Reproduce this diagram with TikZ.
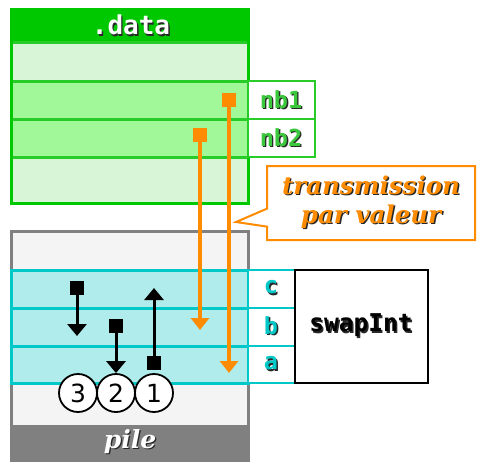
\documentclass[tikz,border=0pt]{standalone}
\usepackage{fontspec}
\setmainfont{DejaVu Serif}
\setsansfont{DejaVu Sans}
\setmonofont{DejaVu Sans Mono}
\usetikzlibrary{arrows.meta,shapes.callouts}
\definecolor{dgreen}{RGB}{0,200,0}
\definecolor{rgreen}{RGB}{40,204,40}
\definecolor{lgreen}{RGB}{216,245,216}
\definecolor{mgreen}{RGB}{160,248,152}
\definecolor{tgreen}{RGB}{60,200,60}
\definecolor{orng}{RGB}{255,140,0}
\definecolor{cyanb}{RGB}{0,200,200}
\definecolor{cyanf}{RGB}{176,236,236}
\definecolor{gryb}{RGB}{128,128,128}
\definecolor{gryf}{RGB}{244,244,244}
\definecolor{shad}{RGB}{40,40,40}
\newcommand\shtxt[2]{\makebox[0pt][l]{\hspace*{1.4pt}\raisebox{-1.4pt}{\color{#1}#2}}#2}
\begin{document}
\begin{tikzpicture}[x=1pt,y=-1pt,
  mono/.style={font=\fontsize{23.5}{24}\selectfont\ttfamily\bfseries},
  osq/.style={fill=orng, minimum size=14pt, inner sep=0},
  bsq/.style={fill=black, minimum size=14pt, inner sep=0},
  oarr/.style={draw=orng, line width=4pt, -{Triangle[width=18pt,length=12pt]}},
  barr/.style={draw=black, line width=3pt, -{Triangle[width=19pt,length=12pt]}},
  num/.style={circle, draw, line width=1.8pt, fill=white, minimum size=38pt, inner sep=0, font=\fontsize{25}{26}\selectfont\sffamily},
  lrow/.style={fill=lgreen, draw=rgreen, line width=3pt},
  mrow/.style={fill=mgreen, draw=rgreen, line width=3pt},
  crow/.style={fill=cyanf, draw=cyanb, line width=3pt},
  glab/.style={fill=white, draw=rgreen, line width=2pt},
  clab/.style={fill=white, draw=cyanb, line width=2pt}]
\useasboundingbox (0,0) rectangle (484,469);
% .data segment
\fill[dgreen] (11,9) rectangle (248,42);
\filldraw[lrow] (11,42) rectangle (248,81);
\filldraw[mrow] (11,81) rectangle (248,119);
\filldraw[mrow] (11,119) rectangle (248,157);
\filldraw[lrow] (11,157) rectangle (248,203);
\draw[dgreen, line width=3pt] (11,9) rectangle (248,203);
\filldraw[glab] (248,81) rectangle (315,119);
\filldraw[glab] (248,119) rectangle (315,157);
\node[text=white, font=\fontsize{26}{26}\selectfont\ttfamily\bfseries] (data) at (131,26) {\shtxt{shad}{.data}};
\node[mono, text=tgreen] (nb1) at (281,100) {\shtxt{shad}{nb1}};
\node[mono, text=tgreen] (nb2) at (281,138) {\shtxt{shad}{nb2}};
% callout
\node[rectangle callout, draw=orng, line width=2pt, fill=white, minimum width=208pt, minimum height=74pt, inner sep=0,
  callout absolute pointer={(236,222)}, callout pointer width=18pt, align=center, text=orng,
  font=\fontsize{24.5}{29}\selectfont\bfseries\itshape] (call) at (371,203) {\shtxt{shad}{transmission}\\\shtxt{shad}{par valeur}};
% pile
\filldraw[fill=gryf, draw=gryb, line width=3pt] (11,231) rectangle (248,460);
\fill[gryb] (11,425) rectangle (248,460);
\node[text=white, font=\fontsize{25}{26}\selectfont\bfseries\itshape] (pile) at (130,442) {\shtxt{shad}{pile}};
\filldraw[crow] (11,270) rectangle (248,308);
\filldraw[crow] (11,308) rectangle (248,346);
\filldraw[crow] (11,346) rectangle (248,383);
\filldraw[clab] (248,270) rectangle (295,308);
\filldraw[clab] (248,308) rectangle (295,346);
\filldraw[clab] (248,346) rectangle (295,383);
\filldraw[fill=white, draw=black, line width=2pt] (295,270) rectangle (428,383);
\node[mono, text=cyanb] (lc) at (271,288) {\shtxt{shad}{c}};
\node[mono, text=cyanb] (lb) at (271,326) {\shtxt{shad}{b}};
\node[mono, text=cyanb] (la) at (271,364) {\shtxt{shad}{a}};
\node[text=black, font=\fontsize{24.5}{26}\selectfont\ttfamily\bfseries] (swap) at (361,326) {\shtxt{shad}{swapInt}};
% circles
\node[num] (n3) at (78,393) {3};
\node[num] (n2) at (116,393) {2};
\node[num] (n1) at (154,393) {1};
% black arrows
\node[bsq] (q1) at (77,288) {};
\coordinate (t1) at (77,336);
\draw[barr] (q1.center) -- (t1);
\node[bsq] (q2) at (116,326) {};
\draw[barr] (q2.center) -- (n2.north);
\node[bsq] (q3) at (154,363) {};
\coordinate (t3) at (154,288);
\draw[barr] (q3.center) -- (t3);
% orange arrows
\node[osq] (s1) at (229,100) {};
\coordinate (e1) at (229,373);
\node[osq] (s2) at (200,135) {};
\coordinate (e2) at (200,330);
\draw[oarr] (s1.center) -- (e1);
\draw[oarr] (s2.center) -- (e2);
\end{tikzpicture}
\end{document}
